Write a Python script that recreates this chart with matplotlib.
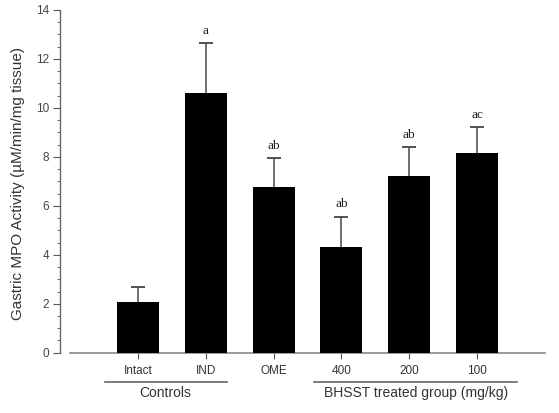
import matplotlib
matplotlib.use("Agg")
import matplotlib.pyplot as plt
from matplotlib.ticker import MultipleLocator
import numpy as np

categories = ['Intact', 'IND', 'OME', '400', '200', '100']
means = [2.08, 10.6, 6.78, 4.33, 7.2, 8.15]
errors = [0.59, 2.04, 1.16, 1.23, 1.19, 1.08]
letters = ['', 'a', 'ab', 'ab', 'ab', 'ac']
groups = [('Controls', -0.49, 1.31), ('BHSST treated group (mg/kg)', 2.6, 5.59)]
ylabel = 'Gastric MPO Activity (\u00b5M/min/mg tissue)'

plt.rcParams['font.family'] = ['Liberation Sans', 'DejaVu Sans']
fig = plt.figure(figsize=(5.59, 4.13), dpi=100)
ax = fig.add_axes([70/559, 1-352.7/413, 475/559, 342.7/413])

x = np.arange(len(categories))
m = np.array(means)
e = np.array(errors)
ax.bar(x, m, width=0.62, color='black', zorder=3)
ax.vlines(x, m, m + e, color='#555555', lw=1.2, zorder=2)
ax.plot(x, m + e, linestyle='none', marker='_', markersize=10,
        markeredgewidth=1.3, color='#444444', zorder=2)
for xi, mi, ei, t in zip(x, m, e, letters):
    if t:
        ax.annotate(t, (xi, mi + ei), xytext=(0, 4.5), textcoords='offset points',
                    ha='center', va='bottom', fontsize=9.5,
                    family=['Liberation Serif', 'DejaVu Serif'], color='#1a1a1a')

ax.set_xlim(-1, 6)
ax.set_ylim(0, 14)
ax.yaxis.set_major_locator(MultipleLocator(2))
ax.yaxis.set_minor_locator(MultipleLocator(0.5))
ax.set_xticks(x)
ax.set_xticklabels(categories, fontsize=8.5, color='#333333')
ax.tick_params(axis='x', length=4, color='#555555', pad=5)
ax.tick_params(axis='y', which='major', length=5, color='#555555', labelsize=8.5,
               labelcolor='#444444', pad=3)
ax.tick_params(axis='y', which='minor', length=2.5, color='#555555')
for s in ['top', 'right']:
    ax.spines[s].set_visible(False)
ax.spines['left'].set_position(('outward', 7))
ax.spines['left'].set_color('#666666')
ax.spines['bottom'].set_color('#888888')
ax.spines['left'].set_linewidth(1.0)
ax.spines['bottom'].set_linewidth(1.2)
ax.set_ylabel(ylabel, fontsize=11, color='#333333')
ax.yaxis.set_label_coords(-0.094, 0.494)

trans = ax.get_xaxis_transform()
for name, x0, x1 in groups:
    ax.plot([x0, x1], [-0.0855, -0.0855], color='#666666', lw=1.2,
            transform=trans, clip_on=False)
    ax.text((x0 + x1) / 2, -0.118, name, transform=trans, ha='center', va='center',
            fontsize=10, color='#333333')

fig.savefig('out.png', dpi=100)
